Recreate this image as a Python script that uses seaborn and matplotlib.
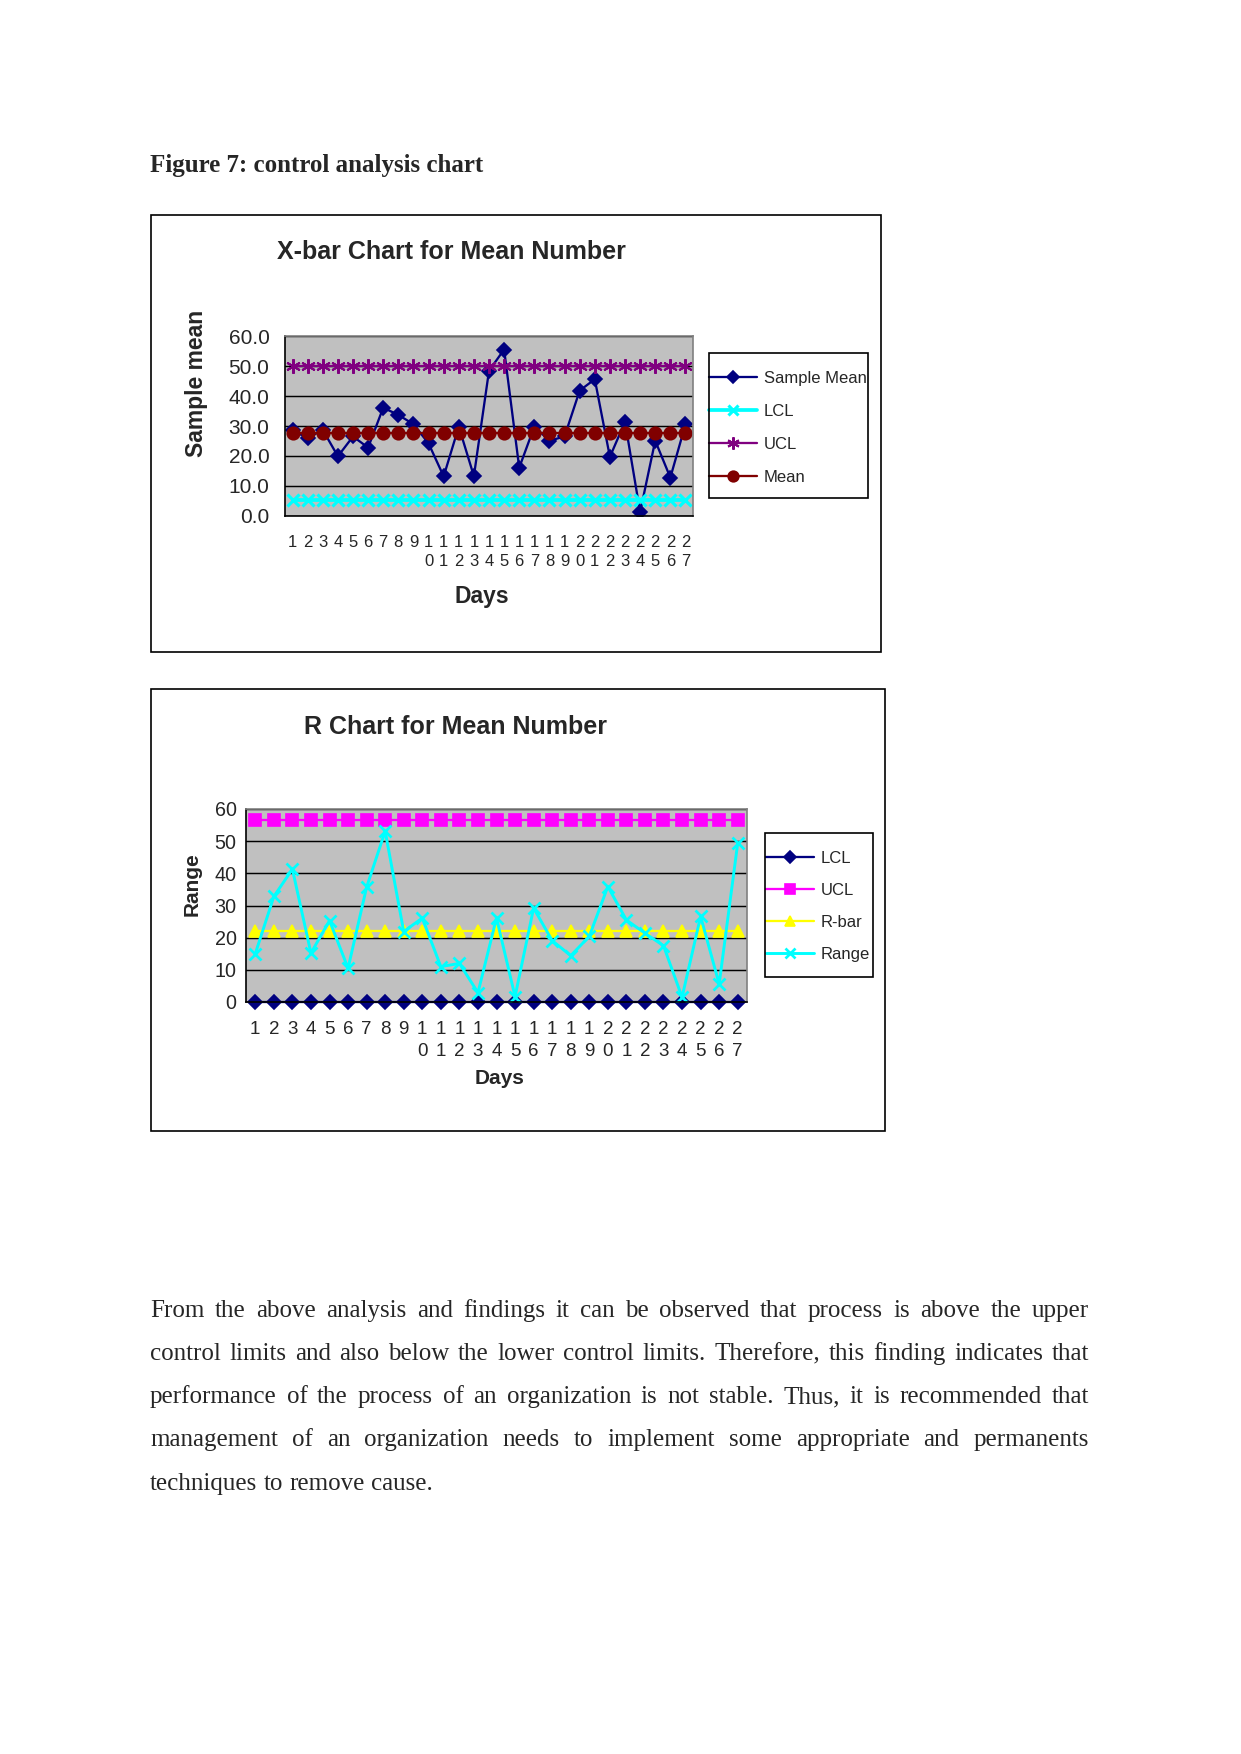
import numpy as np
import pandas as pd
import matplotlib
matplotlib.use("Agg")
import matplotlib.pyplot as plt
import seaborn as sns
from matplotlib.patches import Rectangle

# ---------------- data ----------------
days = list(range(1, 28))
day_labels = ["1", "2", "3", "4", "5", "6", "7", "8", "9",
              "1\n0", "1\n1", "1\n2", "1\n3", "1\n4", "1\n5", "1\n6", "1\n7", "1\n8", "1\n9",
              "2\n0", "2\n1", "2\n2", "2\n3", "2\n4", "2\n5", "2\n6", "2\n7"]

sample_mean = [28.5, 26.0, 28.7, 19.9, 26.5, 22.8, 36.1, 33.7, 30.6, 24.2, 13.2, 29.8, 13.3, 48.4,
               55.5, 16.1, 29.8, 25.1, 26.5, 41.8, 45.6, 19.7, 31.4, 1.3, 25.1, 12.8, 30.5]
xbar_lcl = [5.2] * 27
xbar_ucl = [50.1] * 27
xbar_center = [27.6] * 27

ranges = [15.0, 32.8, 41.3, 15.2, 25.3, 10.5, 35.7, 53.1, 21.9, 26.1, 11.0, 12.0, 2.9, 26.1,
          1.7, 29.2, 19.1, 14.4, 20.4, 35.9, 25.5, 21.4, 17.5, 1.5, 26.6, 5.6, 49.4]
r_lcl = [0.0] * 27
r_ucl = [56.5] * 27
r_bar = [22.0] * 27

xbar_yticks = [0, 10, 20, 30, 40, 50, 60]
xbar_ytick_labels = ["0.0", "10.0", "20.0", "30.0", "40.0", "50.0", "60.0"]
r_yticks = [0, 10, 20, 30, 40, 50, 60]
r_ytick_labels = ["0", "10", "20", "30", "40", "50", "60"]

body_lines = [
    "From the above analysis and findings it can be observed that process is above the upper",
    "control limits and also below the lower control limits. Therefore, this finding indicates that",
    "performance of the process of an organization is not stable. Thus, it is recommended that",
    "management of an organization needs to implement some appropriate and permanents",
    "techniques to remove cause.",
]

# ---------------- style ----------------
sns.set_style("white")
plt.rcParams['font.family'] = ['Liberation Sans', 'DejaVu Sans']

W, H, DPI = 1241, 1754, 150
fig = plt.figure(figsize=(W / DPI, H / DPI), dpi=DPI)
fig.patch.set_facecolor("white")


def rect(l, t, r, b):
    return [l / W, 1 - b / H, (r - l) / W, (b - t) / H]


def fx(x):
    return x / W


def fy(y):
    return 1 - y / H


def box(l, t, r, b, lw=0.8):
    fig.add_artist(Rectangle((fx(l), fy(b)), (r - l) / W, (b - t) / H, transform=fig.transFigure,
                             fill=False, edgecolor="black", linewidth=lw))


def style_axes(ax, yticks, ylabels, ytick_fs, xtick_fs, ypad, xpad, ylen, xlen, linesp):
    ax.set_facecolor("#C0C0C0")
    ax.set_xlim(0.5, 27.5)
    ax.set_ylim(0, 60)
    ax.set_yticks(yticks)
    ax.set_yticklabels(ylabels, fontsize=ytick_fs)
    ax.set_xticks(days)
    ax.set_xticklabels(day_labels, fontsize=xtick_fs)
    for lbl in ax.get_xticklabels():
        lbl.set_linespacing(linesp)
    ax.set_xticks(np.arange(0.5, 28, 1), minor=True)
    ax.tick_params(axis="x", which="major", length=0, pad=xpad)
    ax.tick_params(axis="x", which="minor", length=xlen, width=0.7, direction="out", color="black")
    ax.tick_params(axis="y", which="major", length=ylen, width=0.7, direction="out", color="black", pad=ypad)
    ax.yaxis.grid(True, color="black", linewidth=0.7)
    ax.xaxis.grid(False)
    ax.set_axisbelow(True)
    for s in ["left", "bottom"]:
        ax.spines[s].set_color("black")
        ax.spines[s].set_linewidth(0.8)
    for s in ["top", "right"]:
        ax.spines[s].set_color("#808080")
        ax.spines[s].set_linewidth(0.8)
    ax.set_xlabel("")
    ax.set_ylabel("")


# ---------------- chart 1 : X-bar ----------------
box(151, 215, 881, 652)
ax1 = fig.add_axes(rect(285, 336, 693, 516))
sns.lineplot(x=days, y=sample_mean, ax=ax1, color="#000080", marker="D", markersize=4.5,
             markeredgecolor="#000080", markeredgewidth=0.8, linewidth=1.1, label="Sample Mean")
sns.lineplot(x=days, y=xbar_lcl, ax=ax1, color="#00FFFF", marker="x", markersize=6,
             markeredgecolor="#00FFFF", markeredgewidth=1.5, linewidth=1.8, label="LCL")
sns.lineplot(x=days, y=xbar_ucl, ax=ax1, color="#800080", marker=(6, 2, 0), markersize=7,
             markeredgecolor="#800080", markeredgewidth=1.0, linewidth=1.1, label="UCL")
sns.lineplot(x=days, y=xbar_center, ax=ax1, color="#800000", marker="o", markersize=6,
             markeredgecolor="#800000", markeredgewidth=0.8, linewidth=1.1, label="Mean")
style_axes(ax1, xbar_yticks, xbar_ytick_labels, 10, 8, 4.5, 9, 3, 4, 1.37)
h1, l1 = ax1.get_legend_handles_labels()
ax1.legend(h1, l1, loc="upper left", bbox_to_anchor=(fx(709), fy(371)), bbox_transform=fig.transFigure,
           frameon=False, fontsize=8, handlelength=2.9, handletextpad=0.4, labelspacing=1.07,
           borderpad=0, borderaxespad=0, markerscale=0.85)
box(709, 353, 868, 498)

fig.text(fx(451), fy(252), "X-bar Chart for Mean Number", fontsize=12, fontweight="bold",
         ha="center", va="center")
fig.text(fx(196), fy(383), "Sample mean", fontsize=11, fontweight="bold", rotation=90,
         ha="center", va="center")
fig.text(fx(482), fy(596), "Days", fontsize=11, fontweight="bold", ha="center", va="center")

# ---------------- chart 2 : R ----------------
box(151, 689, 885, 1131)
ax2 = fig.add_axes(rect(246, 809, 747, 1002))
sns.lineplot(x=days, y=r_lcl, ax=ax2, color="#000080", marker="D", markersize=4.5,
             markeredgecolor="#000080", markeredgewidth=0.8, linewidth=1.1, label="LCL", clip_on=False)
sns.lineplot(x=days, y=r_ucl, ax=ax2, color="#FF00FF", marker="s", markersize=6,
             markeredgecolor="#FF00FF", markeredgewidth=0.8, linewidth=1.1, label="UCL")
sns.lineplot(x=days, y=r_bar, ax=ax2, color="#FFFF00", marker="^", markersize=5.5,
             markeredgecolor="#FFFF00", markeredgewidth=0.8, linewidth=1.1, label="R-bar")
sns.lineplot(x=days, y=ranges, ax=ax2, color="#00FFFF", marker="x", markersize=5.5,
             markeredgecolor="#00FFFF", markeredgewidth=1.3, linewidth=1.4, label="Range")
style_axes(ax2, r_yticks, r_ytick_labels, 9.5, 9, 1.0, 9, 3.5, 3.5, 1.43)
h2, l2 = ax2.get_legend_handles_labels()
ax2.legend(h2, l2, loc="upper left", bbox_to_anchor=(fx(766), fy(851)), bbox_transform=fig.transFigure,
           frameon=False, fontsize=8, handlelength=2.9, handletextpad=0.4, labelspacing=1.02,
           borderpad=0, borderaxespad=0, markerscale=0.85)
box(765, 833, 873, 977)

fig.text(fx(455), fy(727), "R Chart for Mean Number", fontsize=12, fontweight="bold",
         ha="center", va="center")
fig.text(fx(192), fy(884), "Range", fontsize=10, fontweight="bold", rotation=90,
         ha="center", va="center")
fig.text(fx(500), fy(1078), "Days", fontsize=10, fontweight="bold", ha="center", va="center")

# ---------------- document text ----------------
serif = ["Liberation Serif", "DejaVu Serif"]
fig.text(fx(150), fy(172), "Figure 7: control analysis chart", fontsize=12, fontweight="bold",
         family=serif, ha="left", va="baseline")

left, right = 150, 1089
body_base = [1317, 1360, 1403, 1446, 1490]
renderer = fig.canvas.get_renderer()
space_w = 12 * DPI / 72 * 0.25
for i, (line, yb) in enumerate(zip(body_lines, body_base)):
    words = line.split()
    texts = [fig.text(0, fy(yb), w, fontsize=12, family=serif, ha="left", va="baseline") for w in words]
    widths = [t.get_window_extent(renderer).width for t in texts]
    if i < len(body_lines) - 1:
        gap = (right - left - sum(widths)) / (len(words) - 1)
    else:
        gap = space_w
    x = left
    for t, w in zip(texts, widths):
        t.set_position((fx(x), fy(yb)))
        x += w + gap

fig.savefig("out.png", dpi=DPI, facecolor="white")
